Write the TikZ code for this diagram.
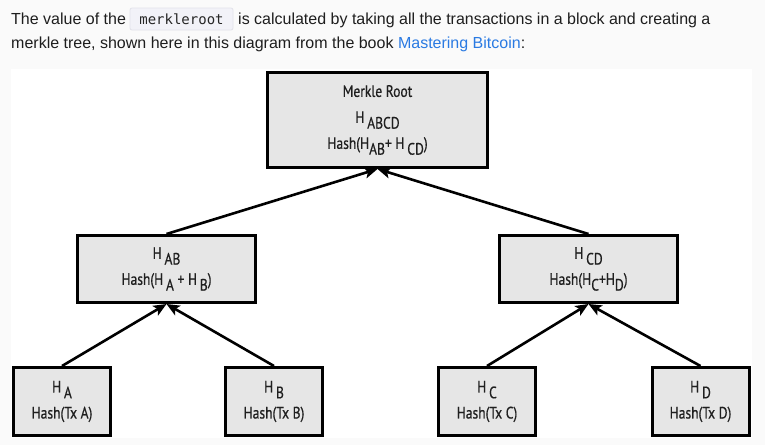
\documentclass[tikz,border=0pt]{standalone}
\usepackage{fontspec}
\setmainfont{Liberation Sans}
\newfontfamily\diagfont{PT Sans}[FakeStretch=0.82,FakeBold=0.6]
\newfontfamily\codefont{DejaVu Sans Mono}
\usetikzlibrary{arrows.meta}
\definecolor{pagebg}{HTML}{FAFAFA}
\definecolor{txt}{HTML}{1E1E1E}
\definecolor{linkblue}{HTML}{2A7AE2}
\definecolor{codebg}{HTML}{F2F2F8}
\definecolor{codeborder}{HTML}{E2E2EA}
\definecolor{boxfill}{HTML}{E6E6E6}
\newcommand{\hsb}[1]{\raisebox{-0.35em}{#1}}
\begin{document}
\begin{tikzpicture}[x=1pt,y=-1pt,
  prose/.style={anchor=base west,inner sep=0pt,text=txt,font=\fontsize{16}{19}\selectfont},
  hbox/.style={draw=black,line width=3pt,fill=boxfill,align=center,inner sep=0pt,
     text=black!88,font=\diagfont\fontsize{16.5}{26}\selectfont},
  conn/.style={line width=2.6pt,-{Stealth[length=13pt,width=11pt,inset=3pt]}}]
\fill[pagebg] (0,0) rectangle (765,445);
\useasboundingbox (0,0) rectangle (765,445);
\fill[white] (11,69) rectangle (752,438);
% prose
\node[prose] (t1) at (11,24) {The value of the};
\node[draw=codeborder,fill=codebg,rounded corners=2pt,line width=0.8pt,
      minimum width=103pt,minimum height=22pt,inner sep=0pt,
      text=black!85,font=\codefont\fontsize{14}{16}\selectfont] (code) at (181.5,19) {merkleroot};
\node[prose] (t2) at (238,24) {is calculated by taking all the transactions in a block and creating a};
\node[prose] (t3) at (11,48) {merkle tree, shown here in this diagram from the book \textcolor{linkblue}{Mastering Bitcoin}:};
% boxes
\node[hbox,minimum width=220pt,minimum height=95pt] (root) at (377.5,120)
  {Merkle Root\\H\,\hsb{ABCD}\\Hash(H\hsb{AB}+ H\,\hsb{CD})};
\node[hbox,minimum width=178pt,minimum height=67pt] (hab) at (166.5,269)
  {H\,\hsb{AB}\\Hash(H\,\hsb{A} + H\,\hsb{B})};
\node[hbox,minimum width=178pt,minimum height=67pt] (hcd) at (588.5,269)
  {H\,\hsb{CD}\\Hash(H\hsb{C}+H\hsb{D})};
\node[hbox,minimum width=97pt,minimum height=68pt] (ha) at (62,401.5)
  {H\,\hsb{A}\\Hash(Tx A)};
\node[hbox,minimum width=97pt,minimum height=68pt] (hb) at (274,401.5)
  {H\,\hsb{B}\\Hash(Tx B)};
\node[hbox,minimum width=97pt,minimum height=68pt] (hc) at (487,401.5)
  {H\,\hsb{C}\\Hash(Tx C)};
\node[hbox,minimum width=97pt,minimum height=68pt] (hd) at (700.5,401.5)
  {H\,\hsb{D}\\Hash(Tx D)};
% connectors
\draw[conn] (hab.north) -- (root.south);
\draw[conn] (hcd.north) -- (root.south);
\draw[conn] (ha.north) -- (hab.south);
\draw[conn] (hb.north) -- (hab.south);
\draw[conn] (hc.north) -- (hcd.south);
\draw[conn] (hd.north) -- (hcd.south);
\end{tikzpicture}
\end{document}
